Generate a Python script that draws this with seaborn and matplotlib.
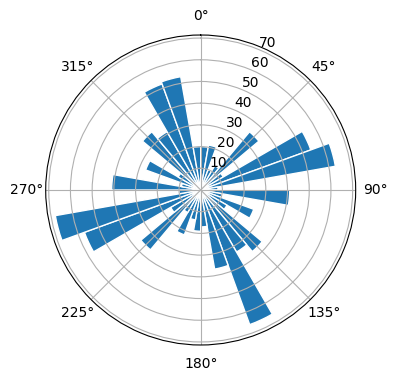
import numpy as np
import seaborn as sns
import matplotlib
matplotlib.use("Agg")
import matplotlib.pyplot as plt

# 36 sectors of 10 degrees, starting at north, going clockwise
sector_deg = np.arange(0, 360, 10)
radii = [20, 21, 10, 13, 35, 12, 54, 63, 8,
         41, 10, 26, 14, 37, 33, 66, 37, 17,
         19, 14, 22, 12, 36, 16, 57, 68, 10,
         41, 9, 27, 12, 35, 31, 52, 53, 20]

color = sns.color_palette("tab10")[0]

fig = plt.figure(figsize=(3.96, 3.80), dpi=100)
ax = fig.add_axes([0.1154, 0.0921, 0.7828, 0.8158], projection="polar")
ax.set_theta_zero_location("N")
ax.set_theta_direction(-1)

theta = np.deg2rad(sector_deg)
ax.bar(theta, radii, width=np.deg2rad(10), align="edge",
       color=color, edgecolor="white", linewidth=1)

fig.savefig("out.png", dpi=100)
